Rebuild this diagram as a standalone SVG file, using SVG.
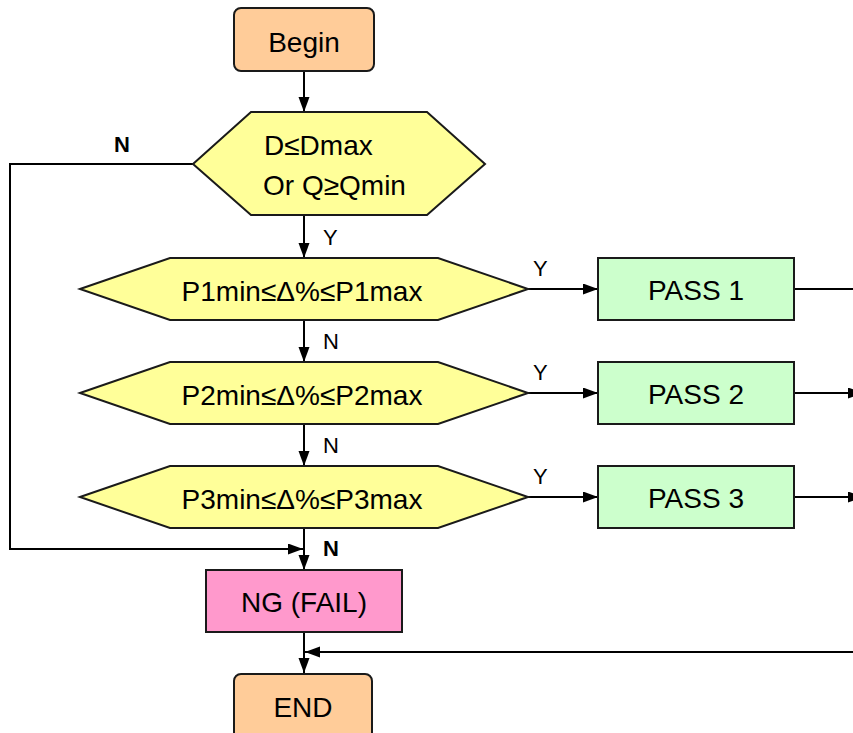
<svg xmlns="http://www.w3.org/2000/svg" width="853" height="733" viewBox="0 0 853 733">
<style>
  .t{font-family:"Liberation Sans",Arial,sans-serif;font-size:28px;fill:#000}
  .c{text-anchor:middle}
  .lbl{font-family:"Liberation Sans",Arial,sans-serif;font-size:22px;fill:#000}
  .b{font-weight:bold}
  .sh{stroke:#1a1a1a;stroke-width:2}
  .term{fill:#FFCC99}
  .dec{fill:#FFFF99}
  .pass{fill:#CCFFCC}
  .fail{fill:#FF99CC}
  .ln{fill:none;stroke:#000;stroke-width:2}
</style>
<defs>
  <marker id="ah" markerWidth="16" markerHeight="12" refX="15" refY="5.5" orient="auto" markerUnits="userSpaceOnUse">
    <path d="M0,0 L15,5.5 L0,11 Z" fill="#000"/>
  </marker>
</defs>
<rect width="853" height="733" fill="#fff"/>
<g id="connectors">
  <path class="ln" d="M304,71 V112" marker-end="url(#ah)"/>
  <path class="ln" d="M304,215 V258" marker-end="url(#ah)"/>
  <path class="ln" d="M304,320 V362" marker-end="url(#ah)"/>
  <path class="ln" d="M304,424 V466" marker-end="url(#ah)"/>
  <path class="ln" d="M304,528 V570" marker-end="url(#ah)"/>
  <path class="ln" d="M304,632 V673" marker-end="url(#ah)"/>
  <path class="ln" d="M193,164 H10 V549 H303" marker-end="url(#ah)"/>
  <path class="ln" d="M528,289 H598" marker-end="url(#ah)"/>
  <path class="ln" d="M528,393 H598" marker-end="url(#ah)"/>
  <path class="ln" d="M528,497 H598" marker-end="url(#ah)"/>
  <path class="ln" d="M795,289 H860"/>
  <path class="ln" d="M795,393 H863" marker-end="url(#ah)"/>
  <path class="ln" d="M795,497 H863" marker-end="url(#ah)"/>
  <path class="ln" d="M860,652 H305" marker-end="url(#ah)"/>
  <text class="lbl b" x="114" y="152">N</text>
  <text class="lbl" x="323" y="245">Y</text>
  <text class="lbl" x="533" y="276">Y</text>
  <text class="lbl" x="533" y="380">Y</text>
  <text class="lbl" x="533" y="484">Y</text>
  <text class="lbl" x="323" y="349">N</text>
  <text class="lbl" x="323" y="453">N</text>
  <text class="lbl b" x="323" y="556">N</text>
</g>
<g id="begin">
  <rect class="sh term" x="234" y="8" width="140" height="63" rx="7"/>
  <text class="t c" x="304" y="52">Begin</text>
</g>
<g id="cond0">
  <polygon class="sh dec" points="193,164 251,112 427,112 485,164 427,215 251,215"/>
  <text class="t" x="264" y="155">D≤Dmax</text>
  <text class="t" x="263" y="195">Or Q≥Qmin</text>
</g>
<g id="cond1">
  <polygon class="sh dec" points="80,289 170,258 438,258 528,289 438,320 170,320"/>
  <text class="t c" x="302" y="301">P1min≤Δ%≤P1max</text>
</g>
<g id="cond2">
  <polygon class="sh dec" points="80,393 170,362 438,362 528,393 438,424 170,424"/>
  <text class="t c" x="302" y="405">P2min≤Δ%≤P2max</text>
</g>
<g id="cond3">
  <polygon class="sh dec" points="80,497 170,466 438,466 528,497 438,528 170,528"/>
  <text class="t c" x="302" y="509">P3min≤Δ%≤P3max</text>
</g>
<g id="pass1">
  <rect class="sh pass" x="598" y="258" width="196" height="62"/>
  <text class="t c" x="696" y="300">PASS 1</text>
</g>
<g id="pass2">
  <rect class="sh pass" x="598" y="362" width="196" height="62"/>
  <text class="t c" x="696" y="404">PASS 2</text>
</g>
<g id="pass3">
  <rect class="sh pass" x="598" y="466" width="196" height="62"/>
  <text class="t c" x="696" y="508">PASS 3</text>
</g>
<g id="fail">
  <rect class="sh fail" x="206" y="570" width="196" height="62"/>
  <text class="t c" x="304" y="612">NG (FAIL)</text>
</g>
<g id="end">
  <rect class="sh term" x="234" y="674" width="138" height="66" rx="7"/>
  <text class="t c" x="303" y="717">END</text>
</g>
</svg>
